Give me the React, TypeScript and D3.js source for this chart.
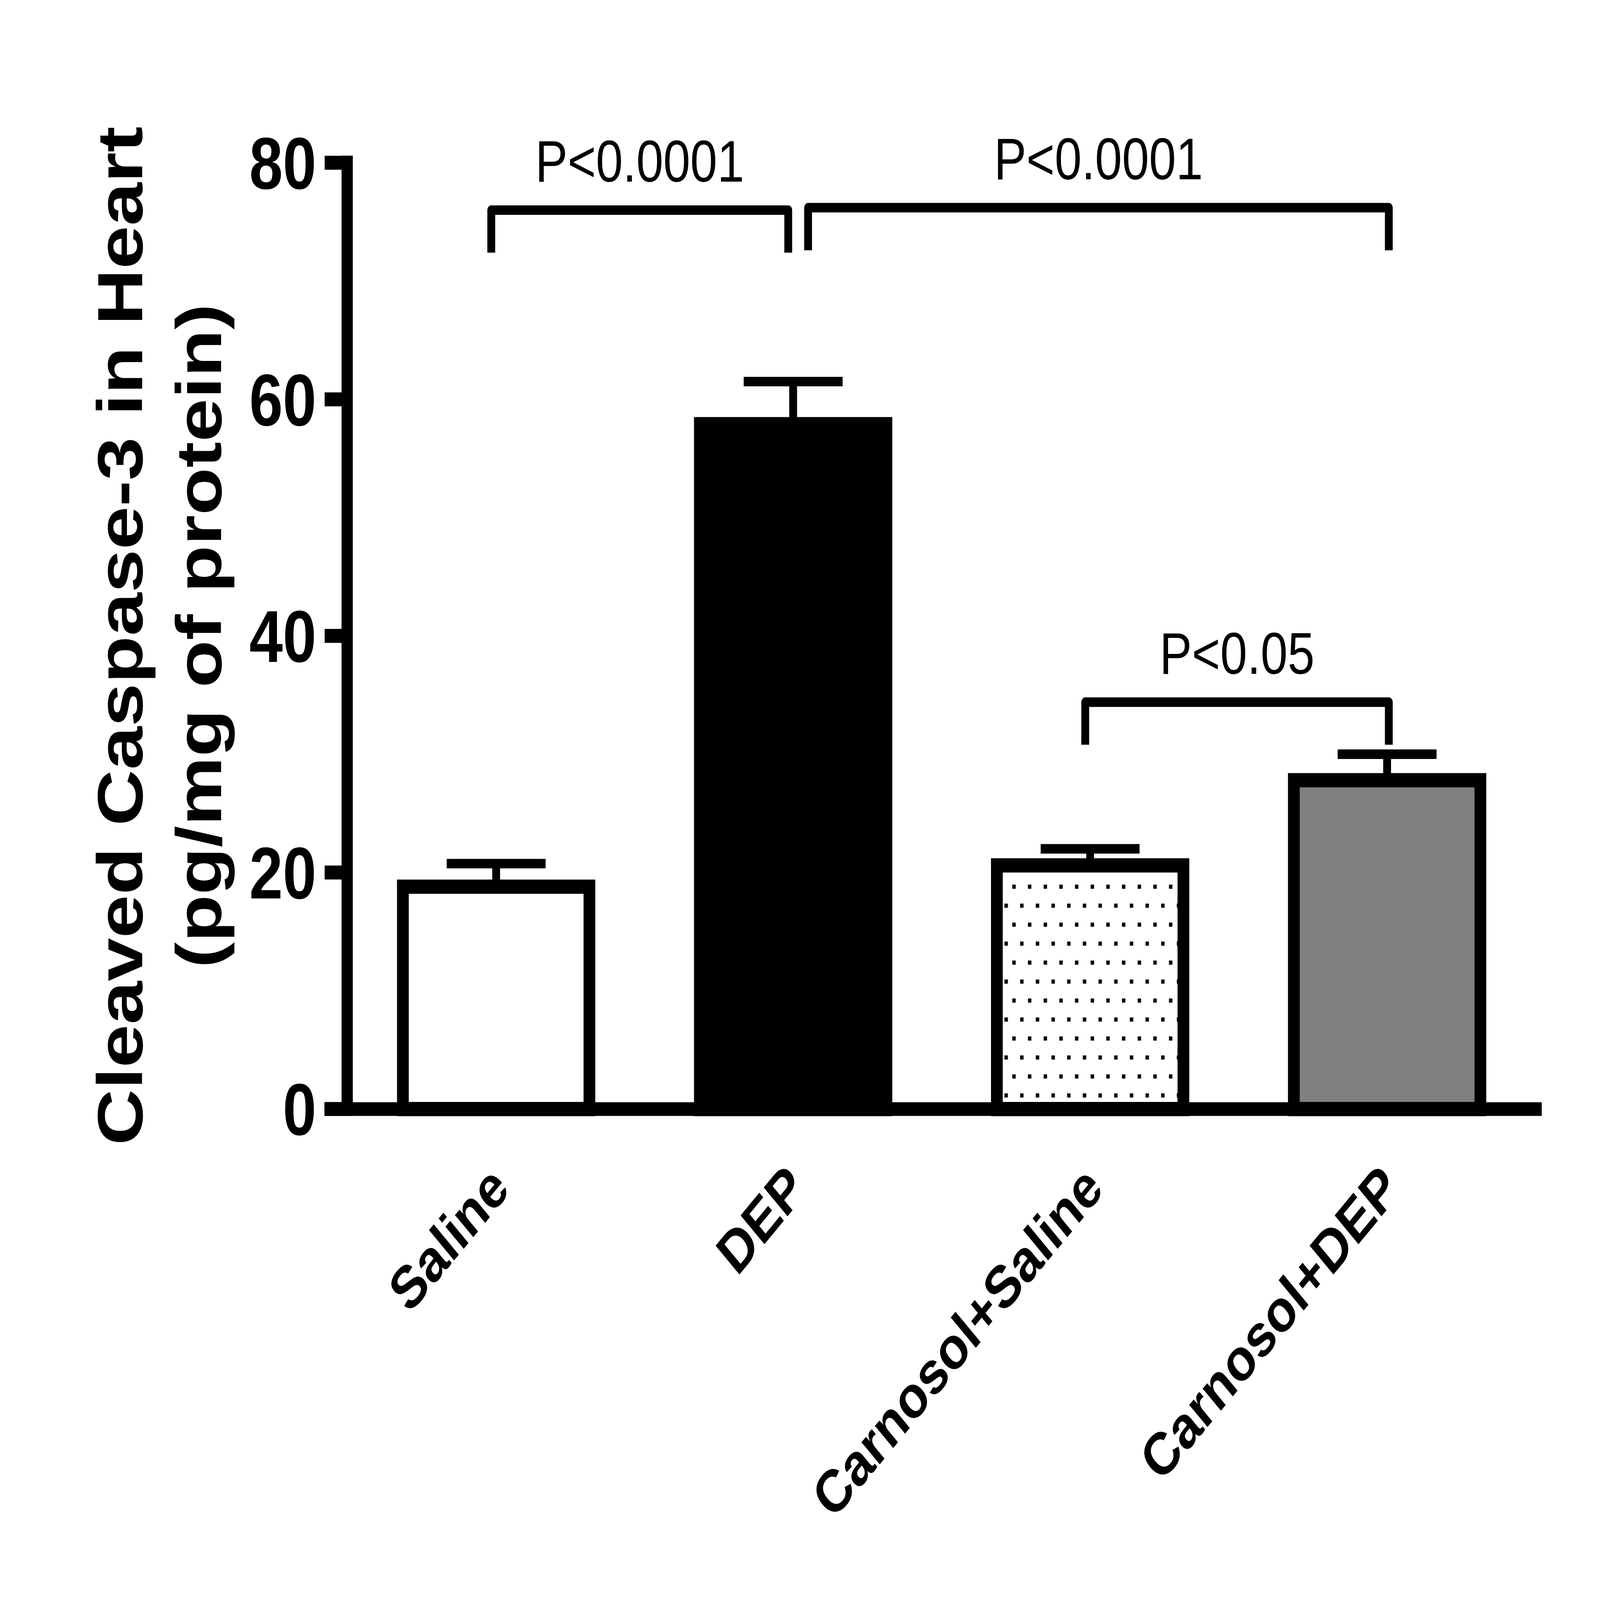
import React, { useEffect, useState } from 'react';
import * as d3 from 'd3';

// group names, means and SEM (pg/mg of protein)
const groups = ['Saline', 'DEP', 'Carnosol+Saline', 'Carnosol+DEP'];
const means = [18.8, 57.9, 20.6, 27.8];
const sems = [1.95, 3.6, 1.4, 2.2];
const fills = ['#ffffff', '#000000', 'url(#dots)', '#808080'];

const yTicks = [0, 20, 40, 60, 80];

// significance brackets: from group, to group, height (data units), label
const bracketFrom = [0, 1, 2];
const bracketTo = [1, 3, 3];
const bracketLevel = [76.0, 76.2, 34.4];
const bracketText = ['P<0.0001', 'P<0.0001', 'P<0.05'];

const W = 6535;
const H = 5397;
const FONT = '"Liberation Sans", Arial, Helvetica, sans-serif';

export default function App() {
  const [size, setSize] = useState({ w: W, h: H });

  // the browser window may be smaller than the figure: stretch the figure to fill it
  useEffect(() => {
    document.body.style.margin = '0';
    const fit = () =>
      setSize({
        w: document.documentElement.clientWidth || window.innerWidth,
        h: window.innerHeight,
      });
    fit();
    window.addEventListener('resize', fit);
    return () => window.removeEventListener('resize', fit);
  }, []);

  const y = d3.scaleLinear().domain([0, 80]).range([3741, 549]);
  const x = d3
    .scaleBand<string>()
    .domain(groups)
    .range([1420, 6272])
    .paddingInner(0.334)
    .paddingOuter(0.167);

  const bw = x.bandwidth();
  const sw = 46; // main stroke width
  const axisX = 1418;
  const cx = (i: number) => (x(groups[i]) as number) + bw / 2;

  // where two brackets meet on the same bar, pull the ends apart
  const endX = (b: number, side: 'l' | 'r') => {
    const g = side === 'l' ? bracketFrom[b] : bracketTo[b];
    const shared =
      side === 'l' ? bracketTo.includes(g) : bracketFrom.includes(g);
    if (!shared) return cx(g) + (side === 'l' ? -20 : 7);
    return cx(g) + (side === 'r' ? -20 : 61);
  };

  const patX = (x(groups[2]) as number) + 22;

  return (
    <svg
      width={size.w}
      height={size.h}
      viewBox={`0 0 ${W} ${H}`}
      preserveAspectRatio="none"
      style={{ display: 'block', background: '#fff' }}
    >
      <defs>
        <pattern
          id="dots"
          patternUnits="userSpaceOnUse"
          x={patX}
          y={2984}
          width={64}
          height={128}
        >
          <rect width={64} height={128} fill="#fff" />
          <rect x={0} y={0} width={14} height={14} fill="#000" />
          <rect x={32} y={64} width={14} height={14} fill="#000" />
        </pattern>
      </defs>
      <rect width={W} height={H} fill="#fff" />

      {/* bars */}
      {groups.map((g, i) => (
        <rect
          key={g}
          x={(x(g) as number) + sw / 2}
          y={y(means[i])}
          width={bw - sw}
          height={y(0) - y(means[i])}
          fill={fills[i]}
          stroke="#000"
          strokeWidth={sw + 2}
        />
      ))}

      {/* error bars (upper only) */}
      {groups.map((g, i) => (
        <g key={'e' + g} stroke="#000" strokeWidth={32}>
          <line x1={cx(i)} x2={cx(i)} y1={y(means[i])} y2={y(means[i] + sems[i])} />
          <line
            x1={cx(i) - bw / 4}
            x2={cx(i) + bw / 4}
            y1={y(means[i] + sems[i])}
            y2={y(means[i] + sems[i])}
          />
        </g>
      ))}

      {/* axes */}
      <line x1={1325} x2={6297} y1={y(0)} y2={y(0)} stroke="#000" strokeWidth={sw} />
      <line
        x1={axisX}
        x2={axisX}
        y1={y(80) - 24}
        y2={y(0) + 23}
        stroke="#000"
        strokeWidth={sw}
      />
      {yTicks.map((t) => (
        <g key={t}>
          <line x1={1326} x2={axisX} y1={y(t)} y2={y(t)} stroke="#000" strokeWidth={47} />
          <text
            x={1292}
            y={y(t)}
            dy="0.355em"
            textAnchor="end"
            fontFamily={FONT}
            fontWeight="bold"
            fontSize={246}
          >
            {t}
          </text>
        </g>
      ))}

      {/* category labels */}
      {groups.map((g, i) => (
        <text
          key={'l' + g}
          transform={`translate(${cx(i) + 62},${4018}) rotate(-45)`}
          textAnchor="end"
          fontFamily={FONT}
          fontWeight="bold"
          fontSize={200}
        >
          {g}
        </text>
      ))}

      {/* y axis title */}
      <g fontFamily={FONT} fontWeight="bold" fontSize={262} textAnchor="middle">
        <text transform={`translate(581,${(y(0) + y(80)) / 2}) rotate(-90)`}>
          Cleaved Caspase-3 in Heart
        </text>
        <text transform={`translate(903,${(y(0) + y(80)) / 2}) rotate(-90)`}>
          (pg/mg of protein)
        </text>
      </g>

      {/* significance brackets */}
      {bracketText.map((lab, b) => {
        const x1 = endX(b, 'l');
        const x2 = endX(b, 'r');
        const top = y(bracketLevel[b]);
        const bot = y(bracketLevel[b] - 3.6);
        return (
          <g key={'b' + b}>
            <path
              d={`M${x1},${bot}V${top}H${x2}V${bot}`}
              fill="none"
              stroke="#000"
              strokeWidth={32}
              strokeLinejoin="round"
            />
            <text
              x={(x1 + x2) / 2}
              y={y(bracketLevel[b] + 2.4)}
              textAnchor="middle"
              fontFamily={FONT}
              fontSize={198}
            >
              {lab}
            </text>
          </g>
        );
      })}
    </svg>
  );
}
